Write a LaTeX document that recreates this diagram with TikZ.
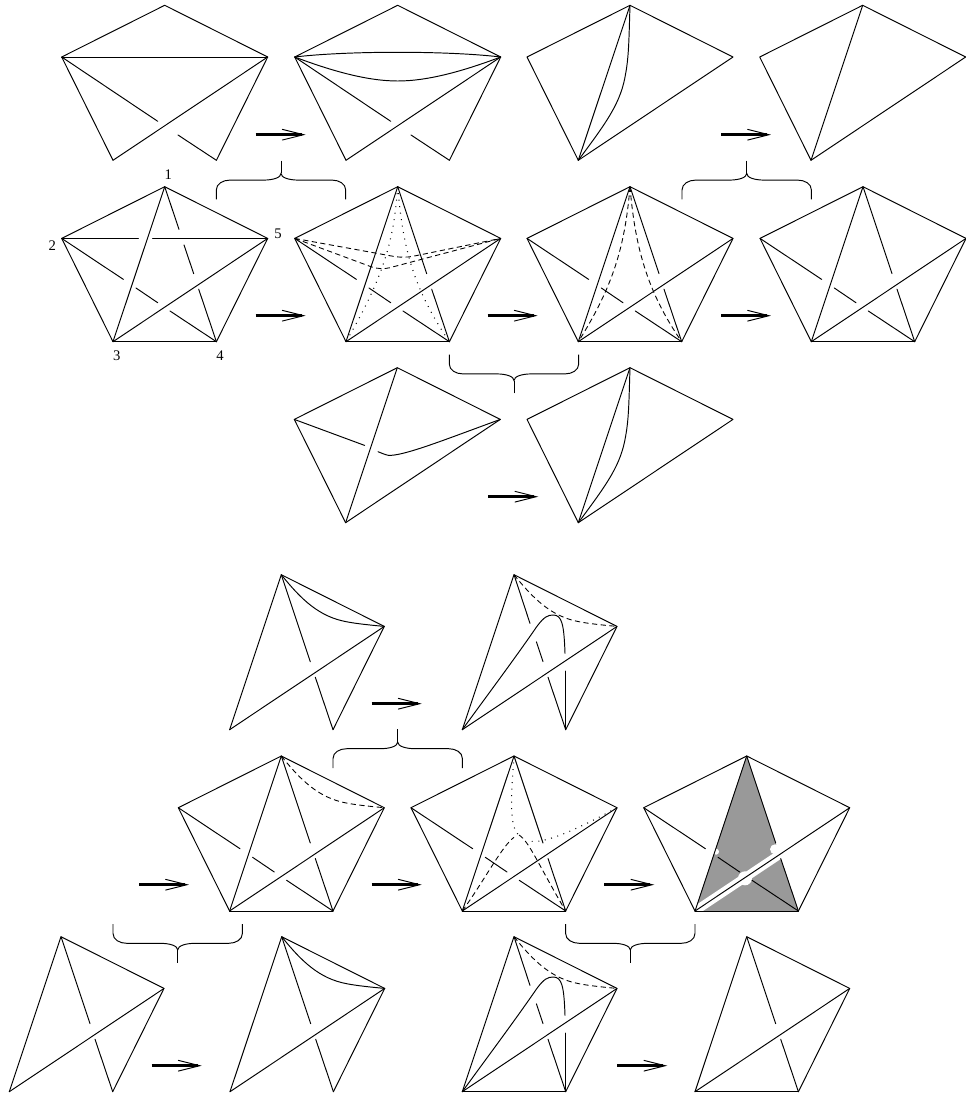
\documentclass[tikz,border=0pt]{standalone}
\usepackage{fontspec}
\setmainfont{Liberation Serif}
\tikzset{
  strand/.style={line width=.72pt,line cap=round,line join=round,black},
  dashline/.style={line width=.66pt,black,dash pattern=on 3.9pt off 2.6pt},
  dotline/.style={line width=.8pt,black,dash pattern=on .7pt off 4.2pt},
  bracepath/.style={line width=.72pt,black},
  arrowshaft/.style={line width=2.1pt,black},
  arrowbarb/.style={line width=.72pt,black,line cap=round},
  numlabel/.style={inner sep=0pt,font=\fontsize{11}{13}\selectfont},
  bluntfill/.style={fill=black!40,draw=none}
}
% one panel: named vertices and strand-break points, relative to the apex
\newcommand{\panel}[3]{%
  \begin{scope}[shift={(#1,#2)}]
    \coordinate (p1) at (0,0);
    \coordinate (p2) at (-103,51.7);
    \coordinate (p5) at (103,51.7);
    \coordinate (p3) at (-51.7,155);
    \coordinate (p4) at (51.7,155);
    \coordinate (a1) at (16,48.7);
    \coordinate (a2) at (22.4,67.2);
    \coordinate (a3) at (29,87);
    \coordinate (a4) at (34,102.5);
    \coordinate (b1) at (-41.3,92.7);
    \coordinate (b2) at (-28.7,101.3);
    \coordinate (b3) at (-7,116);
    \coordinate (b4) at (5.3,124.3);
    \coordinate (b5) at (13.3,129.7);
    \coordinate (c1) at (-26.3,51.7);
    \coordinate (c2) at (-12,51.7);
    #3
  \end{scope}}
\newcommand{\rim}{\draw[strand] (p3)--(p2)--(p1)--(p5)--(p4);}
\newcommand{\kiteA}{\draw[strand] (p4)--(p5)--(p1)--(p3);}
\newcommand{\quadr}{\draw[strand] (p3)--(p2)--(p1)--(p5)--cycle;}
\newcommand{\eAC}{\draw[strand] (p1)--(p3);}
\newcommand{\eCE}{\draw[strand] (p3)--(p5);}
\newcommand{\eCD}{\draw[strand] (p3)--(p4);}
\newcommand{\eAD}{\draw[strand] (p1)--(a3) (a4)--(p4);}
\newcommand{\eBD}{\draw[strand] (p2)--(b1) (b2)--(b3) (b4)--(p4);}
\newcommand{\curveAC}[1]{\draw[#1] (p1) .. controls (-1,30) and (-1,50) .. (-4.3,68) .. controls (-9,97) and (-22,115) .. (p3);}
\newcommand{\curveAE}[1]{\draw[#1] (p1) .. controls (20,25) and (38,42) .. (65,47) .. controls (75,49) and (90,50.5) .. (p5);}
\newcommand{\hump}{%
  \coordinate (h1) at (22.7,52); \coordinate (h2) at (39.3,40.3);
  \coordinate (h3) at (51,78.7); \coordinate (h4) at (51.7,96.3);
  \draw[strand] (p3) .. controls (-30,125) and (0,85) .. (h1) .. controls (30,42) and (34,40.3) .. (h2) .. controls (48,40.3) and (50,50) .. (h3);
  \draw[strand] (h4)--(p4);}
\newcommand{\flow}[2]{%
  \coordinate (ta) at (#1,#2);
  \coordinate (tb) at ([xshift=34.5pt]ta);
  \coordinate (tc) at ([xshift=36pt]ta);
  \coordinate (td) at ([xshift=20pt,yshift=4pt]ta);
  \coordinate (te) at ([xshift=20pt,yshift=-4pt]ta);
  \draw[arrowshaft] (ta)--(tb);
  \draw[arrowbarb] (td)--(tc)--(te);}
\newcommand{\bracepart}{%
  \coordinate (s0) at (0,0); \coordinate (s1) at (0,12.7);
  \coordinate (l1) at (-17.7,19.4); \coordinate (l2) at (-51,19.4);
  \coordinate (l3) at (-64.7,29.3); \coordinate (l4) at (-64.7,38.7);
  \coordinate (r1) at (17.7,19.4); \coordinate (r2) at (51,19.4);
  \coordinate (r3) at (64.7,29.3); \coordinate (r4) at (64.7,38.7);
  \draw[bracepath] (l4)--(l3) .. controls (-64.7,23) and (-58,19.4) .. (l2) -- (l1) .. controls (-8,19.4) and (0,17) .. (s1) .. controls (0,17) and (8,19.4) .. (r1) -- (r2) .. controls (58,19.4) and (64.7,23) .. (r3) -- (r4);
  \draw[bracepath] (s0)--(s1);}
\newcommand{\braceD}[2]{\begin{scope}[shift={(#1,#2)}]\bracepart\end{scope}}
\newcommand{\braceU}[2]{\begin{scope}[shift={(#1,#2)},yscale=-1]\bracepart\end{scope}}
\begin{document}
\begin{tikzpicture}[x=.75pt,y=-.75pt]
\useasboundingbox (0,0) rectangle (965,1099);
% ---- row 1
\panel{164.7}{5.3}{\rim \draw[strand] (p2)--(p5); \eCE
  \draw[strand] (p2)--(b3) (b5)--(p4);}
\panel{397.7}{5.3}{\rim \eCE
  \draw[strand] (p2)--(b3) (b5)--(p4);
  \draw[strand] (p2) .. controls (-50,45.4) and (50,45.4) .. (p5);
  \draw[strand] (p2) .. controls (-65,66) and (-30,75.7) .. (0,75.7) .. controls (30,75.7) and (65,66) .. (p5);}
\panel{630}{5.3}{\quadr \eAC \curveAC{strand}}
\panel{862.7}{5.3}{\quadr \eAC}
% ---- row 2
\panel{164.7}{186.7}{\rim \eAC \eCE \eCD \eBD
  \draw[strand] (p2)--(c1) (c2)--(p5);
  \draw[strand] (p1)--(14.3,42.7) (19.3,58.3)--(a3) (a4)--(p4);}
\panel{397.7}{186.7}{\rim \eAC \eCE \eCD \eBD \eAD
  \draw[dashline,rounded corners=7pt] (p2)--(6,71.5)--(p5);
  \draw[dashline,rounded corners=7pt] (p2)--(-17.3,83.5)--(p5);
  \draw[dotline] (p1) .. controls (-4,55) and (-14,90) .. (p3);
  \draw[dotline] (p1) .. controls (5,58) and (14,100) .. (p4);}
\panel{630}{186.7}{\rim \eAC \eCE \eCD \eBD \eAD
  \draw[dashline] (p1) .. controls (-5,60) and (-17,100) .. (p3);
  \draw[dashline] (p1) .. controls (5,60) and (17,105) .. (p4);}
\panel{863}{186.7}{\rim \eAC \eCE \eCD \eBD \eAD}
% ---- row 3
\panel{397.3}{367.7}{\quadr \eAC
  \coordinate (f1) at (-32.7,77.7); \coordinate (f2) at (-19.3,84);
  \draw[strand] (p2)--(f1);
  \draw[strand] (f2) .. controls (-12,87) and (-9,88) .. (-7,87.7) .. controls (10,87) and (50,71) .. (p5);}
\panel{630}{367.7}{\quadr \eAC \curveAC{strand}}
% ---- row 4
\panel{281.3}{574.7}{\kiteA \eCE \eAD \curveAE{strand}}
\panel{514}{574.7}{\kiteA \eCE \hump
  \draw[strand] (p1)--(a1) (a2)--(a3) (a4)--(p4);
  \curveAE{dashline}}
% ---- row 5
\panel{281.3}{756}{\rim \eAC \eCE \eCD \eBD \eAD \curveAE{dashline}}
\panel{514}{756}{\rim \eAC \eCE \eCD \eBD \eAD
  \coordinate (m1) at (5,79); \coordinate (m2) at (0,81.3); \coordinate (m3) at (15,85);
  \draw[dotline] (p1) .. controls (-3,40) and (-5,72) .. (m1);
  \draw[dotline] (p5) .. controls (60,75) and (30,88) .. (m3);
  \draw[dashline] (p3) .. controls (-30,125) and (-12,90) .. (m2);
  \draw[dashline] (m1) .. controls (15,85) and (25,110) .. (p4);}
\panel{746.7}{756}{%
  \fill[bluntfill] (p1)--(p3)--(p4)--cycle;
  \draw[white,line width=6.6pt] (p3)--(p5);
  \fill[white] (28.3,93.3) circle[radius=5];
  \fill[white] (-1.7,122.3) circle[radius=7];
  \fill[white] (-30.7,95.7) circle[radius=3];
  \rim \eAC \eCE \eCD \eBD \eAD}
% ---- row 6
\panel{61}{936.7}{\kiteA \eCE \eAD}
\panel{281.7}{936.7}{\kiteA \eCE \eAD \curveAE{strand}}
\panel{514}{936.7}{\kiteA \eCE \eCD \hump
  \draw[strand] (p1)--(a1) (a2)--(a3) (a4)--(p4);
  \curveAE{dashline}}
\panel{746.7}{936.7}{\kiteA \eCE \eCD \eAD}
% ---- arrows
\flow{255.7}{134.7}
\flow{721}{134.7}
\flow{255.7}{315.7}
\flow{487.7}{315.7}
\flow{721}{315.7}
\flow{488.3}{496.7}
\flow{371.7}{703.7}
\flow{139}{884.7}
\flow{371.7}{884.7}
\flow{604.3}{884.7}
\flow{151.7}{1065.7}
\flow{617.3}{1065.7}
% ---- braces
\braceD{281}{160.7}
\braceD{746.7}{160.7}
\braceU{514}{393.3}
\braceD{397.7}{729.3}
\braceU{177.7}{962.7}
\braceU{630.3}{962.7}
% ---- labels
\node[numlabel] (n1) at (168.3,175) {1};
\node[numlabel] (n2) at (52.3,246) {2};
\node[numlabel] (n3) at (116.7,356) {3};
\node[numlabel] (n4) at (220,356) {4};
\node[numlabel] (n5) at (278,233.3) {5};
\end{tikzpicture}
\end{document}
